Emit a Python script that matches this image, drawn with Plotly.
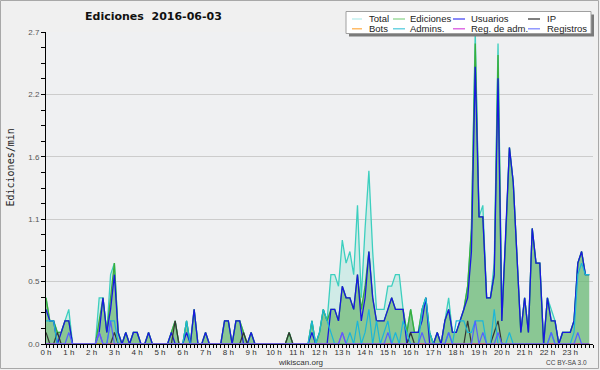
import plotly.graph_objects as go

# ---------------- data: edits per minute, 10-minute bins (6 per hour) ----------------
bins_per_hour = 6

total = [
    0.4, 0.2, 0.2, 0.1, 0.1, 0.2,   # 0 h
    0.3, 0, 0, 0, 0, 0,             # 1 h
    0, 0, 0.4, 0.4, 0.1, 0.6,       # 2 h
    0.7, 0.1, 0, 0.1, 0, 0.1,       # 3 h
    0.1, 0, 0, 0.1, 0, 0,           # 4 h
    0, 0, 0, 0.1, 0.2, 0,           # 5 h
    0, 0.2, 0, 0.3, 0, 0,           # 6 h
    0.1, 0, 0, 0, 0, 0.2,           # 7 h
    0.2, 0, 0.2, 0.2, 0.1, 0,       # 8 h
    0.1, 0, 0, 0, 0, 0,             # 9 h
    0, 0, 0, 0, 0.1, 0,             # 10 h
    0, 0, 0, 0, 0.2, 0,             # 11 h
    0.1, 0.3, 0.2, 0.6, 0.6, 0.5,   # 12 h
    0.9, 0.7, 0.8, 0.6, 1.2, 0.4,   # 13 h
    1.0, 1.5, 0.8, 0.3, 0.3, 0.3,   # 14 h
    0.5, 0.5, 0.6, 0.6, 0.3, 0.1,   # 15 h
    0.3, 0.1, 0.1, 0.3, 0.4, 0.1,   # 16 h
    0, 0.1, 0, 0.2, 0.4, 0.1,       # 17 h
    0.1, 0.2, 0.3, 0.5, 1.0, 2.7,   # 18 h
    1.1, 1.2, 0.4, 0.4, 0.7, 2.6,   # 19 h
    0.3, 0.9, 1.7, 1.4, 0.8, 0.1,   # 20 h
    0.4, 0.1, 1.0, 0.7, 0.7, 0,     # 21 h
    0.4, 0.3, 0.2, 0, 0.1, 0.1,     # 22 h
    0.1, 0.2, 0.7, 0.8, 0.6, 0.6,   # 23 h
]

ediciones = [
    0.4, 0.2, 0.2, 0.1, 0.1, 0.2,
    0.2, 0, 0, 0, 0, 0,
    0, 0, 0.2, 0.4, 0.1, 0.4,
    0.7, 0.1, 0, 0.1, 0, 0.1,
    0.1, 0, 0, 0.1, 0, 0,
    0, 0, 0, 0.1, 0.2, 0,
    0, 0.2, 0, 0.3, 0, 0,
    0.1, 0, 0, 0, 0, 0.2,
    0.2, 0, 0.2, 0.2, 0.1, 0,
    0.1, 0, 0, 0, 0, 0,
    0, 0, 0, 0, 0.1, 0,
    0, 0, 0, 0, 0.2, 0,
    0.1, 0.3, 0.2, 0.3, 0.3, 0.2,
    0.5, 0.4, 0.4, 0.3, 0.6, 0.3,
    0.5, 0.8, 0.4, 0.2, 0.2, 0.2,
    0.3, 0.4, 0.3, 0.3, 0.3, 0.1,
    0.3, 0.1, 0.1, 0.3, 0.4, 0.1,
    0, 0.1, 0, 0.2, 0.3, 0.1,
    0.1, 0.2, 0.3, 0.5, 1.0, 2.6,
    1.1, 1.1, 0.4, 0.4, 0.6, 2.5,
    0.2, 0.9, 1.7, 1.4, 0.8, 0.1,
    0.4, 0.1, 1.0, 0.7, 0.7, 0,
    0.4, 0.2, 0.2, 0, 0.1, 0.1,
    0.1, 0.2, 0.7, 0.8, 0.6, 0.6,
]

usuarios = [
    0.3, 0.2, 0.2, 0, 0.1, 0.2,
    0.2, 0, 0, 0, 0, 0,
    0, 0, 0.1, 0.4, 0.1, 0.3,
    0.6, 0.1, 0, 0.1, 0, 0.1,
    0.1, 0, 0, 0.1, 0, 0,
    0, 0, 0, 0.1, 0, 0,
    0, 0.1, 0, 0.3, 0, 0,
    0.1, 0, 0, 0, 0, 0.2,
    0.2, 0, 0.2, 0.2, 0, 0,
    0.1, 0, 0, 0, 0, 0,
    0, 0, 0, 0, 0, 0,
    0, 0, 0, 0, 0.1, 0,
    0, 0, 0, 0.3, 0.3, 0.2,
    0.5, 0.4, 0.4, 0.3, 0.6, 0.2,
    0.4, 0.8, 0.4, 0.2, 0.2, 0.2,
    0.3, 0.4, 0.3, 0.3, 0.3, 0,
    0.1, 0.1, 0.1, 0.2, 0.4, 0,
    0, 0.1, 0, 0.2, 0.3, 0.1,
    0.1, 0.2, 0.3, 0.4, 0.8, 2.4,
    1.1, 1.1, 0.4, 0.4, 0.6, 2.3,
    0.2, 0.9, 1.7, 1.4, 0.8, 0.1,
    0.4, 0.1, 1.0, 0.7, 0.7, 0,
    0.4, 0.2, 0.2, 0, 0.1, 0.1,
    0.1, 0.2, 0.7, 0.8, 0.6, 0.6,
]

ip = [
    0.1, 0, 0, 0.1, 0, 0,
    0, 0, 0, 0, 0, 0,
    0, 0, 0, 0, 0, 0,
    0.1, 0, 0, 0, 0, 0,
    0, 0, 0, 0, 0, 0,
    0, 0, 0, 0, 0.2, 0,
    0, 0, 0, 0, 0, 0,
    0, 0, 0, 0, 0, 0,
    0, 0, 0, 0, 0.1, 0,
    0, 0, 0, 0, 0, 0,
    0, 0, 0, 0, 0.1, 0,
    0, 0, 0, 0, 0, 0,
    0, 0, 0, 0, 0, 0,
    0, 0, 0, 0, 0, 0,
    0, 0, 0, 0, 0, 0,
    0, 0, 0, 0, 0, 0,
    0.1, 0, 0, 0, 0, 0,
    0, 0, 0, 0, 0, 0,
    0, 0, 0, 0.2, 0, 0,
    0, 0, 0, 0, 0.1, 0.2,
    0, 0, 0, 0, 0, 0,
    0, 0, 0, 0, 0, 0,
    0, 0, 0, 0, 0, 0,
    0, 0, 0, 0, 0, 0,
]

bots = [
    0, 0, 0, 0, 0, 0,  0, 0, 0, 0, 0, 0,  0, 0, 0, 0, 0, 0,  0, 0, 0, 0, 0, 0,
    0, 0, 0, 0, 0, 0,  0, 0, 0, 0, 0, 0,  0, 0, 0, 0, 0, 0,  0, 0, 0, 0, 0, 0,
    0, 0, 0, 0, 0, 0,  0, 0, 0, 0, 0, 0,  0, 0, 0, 0, 0, 0,  0, 0, 0, 0, 0, 0,
    0, 0, 0, 0, 0, 0,  0, 0, 0, 0, 0, 0,  0, 0, 0, 0, 0, 0,  0, 0, 0, 0, 0, 0,
    0, 0, 0, 0, 0, 0,  0, 0, 0, 0, 0, 0,  0, 0, 0, 0, 0, 0,  0, 0, 0, 0, 0, 0,
    0, 0, 0, 0, 0, 0,  0, 0, 0, 0, 0, 0,  0, 0, 0, 0, 0, 0,  0, 0, 0, 0, 0, 0,
]

admins = [
    0.2, 0.2, 0.2, 0, 0, 0,
    0, 0, 0, 0, 0, 0,
    0, 0, 0.1, 0, 0, 0.2,
    0.2, 0, 0, 0, 0, 0,
    0, 0, 0, 0, 0, 0,
    0, 0, 0, 0, 0, 0,
    0, 0.2, 0, 0, 0, 0,
    0, 0, 0, 0, 0, 0,
    0, 0, 0, 0, 0, 0,
    0, 0, 0, 0, 0, 0,
    0, 0, 0, 0, 0, 0,
    0, 0, 0, 0, 0.2, 0,
    0.1, 0.3, 0.2, 0.1, 0, 0,
    0, 0, 0.1, 0, 0.2, 0,
    0.1, 0.3, 0, 0.2, 0, 0.1,
    0.2, 0, 0.1, 0, 0.2, 0.1,
    0, 0, 0, 0.3, 0.4, 0.1,
    0, 0, 0, 0, 0.1, 0,
    0.2, 0.2, 0.2, 0.1, 0.1, 0.2,
    0.2, 0.2, 0, 0, 0.3, 0,
    0, 0, 0.1, 0, 0, 0,
    0, 0, 0, 0, 0, 0,
    0, 0.1, 0, 0, 0, 0,
    0, 0.1, 0.6, 0.7, 0.6, 0.6,
]

reg_adm = [
    0, 0, 0, 0, 0, 0,
    0, 0, 0, 0, 0, 0,
    0, 0, 0.1, 0, 0, 0,
    0, 0, 0, 0, 0, 0,
    0, 0, 0, 0, 0, 0,
    0, 0, 0, 0, 0, 0,
    0, 0, 0, 0, 0, 0,
    0, 0, 0, 0, 0, 0,
    0, 0, 0, 0, 0, 0,
    0, 0, 0, 0, 0, 0,
    0, 0, 0, 0, 0, 0,
    0, 0, 0, 0, 0, 0,
    0, 0, 0, 0, 0, 0,
    0.1, 0, 0, 0, 0, 0,
    0, 0, 0, 0, 0, 0,
    0, 0, 0, 0, 0, 0,
    0, 0, 0, 0, 0, 0,
    0, 0, 0, 0, 0, 0,
    0, 0, 0, 0, 0, 0,
    0, 0, 0, 0, 0, 0,
    0, 0, 0, 0, 0, 0,
    0, 0, 0, 0, 0, 0,
    0, 0, 0, 0, 0, 0,
    0, 0, 0, 0, 0, 0,
]

registros = [
    0, 0, 0, 0, 0, 0,
    0.1, 0, 0, 0, 0, 0,
    0, 0, 0.1, 0, 0, 0.2,
    0, 0, 0, 0, 0, 0,
    0, 0, 0, 0, 0, 0,
    0, 0, 0, 0, 0, 0,
    0, 0, 0, 0, 0, 0,
    0, 0, 0, 0, 0, 0,
    0, 0, 0, 0, 0, 0,
    0, 0, 0, 0, 0, 0,
    0, 0, 0, 0, 0, 0,
    0, 0, 0, 0, 0, 0,
    0, 0, 0, 0, 0, 0,
    0.1, 0, 0, 0, 0, 0,
    0, 0, 0, 0, 0, 0,
    0.1, 0, 0, 0, 0, 0,
    0, 0, 0, 0.1, 0, 0,
    0, 0, 0, 0, 0.1, 0,
    0, 0, 0, 0, 0, 0.2,
    0, 0.1, 0, 0, 0, 0.1,
    0, 0, 0, 0, 0, 0,
    0, 0, 0, 0, 0, 0,
    0, 0.1, 0, 0, 0, 0,
    0, 0, 0.1, 0, 0, 0,
]

hour_ticks = [0, 1, 2, 3, 4, 5, 6, 7, 8, 9, 10, 11, 12, 13, 14, 15, 16, 17, 18, 19, 20, 21, 22, 23]
hour_labels = ["0 h", "1 h", "2 h", "3 h", "4 h", "5 h", "6 h", "7 h", "8 h", "9 h", "10 h", "11 h",
               "12 h", "13 h", "14 h", "15 h", "16 h", "17 h", "18 h", "19 h", "20 h", "21 h", "22 h", "23 h"]
y_tickvals = [0, 0.54, 1.08, 1.62, 2.16, 2.7]
y_ticktext = ["0.0", "0.5", "1.1", "1.6", "2.2", "2.7"]

legend_names = [["Total", "Ediciones", "Usuarios", "IP"],
                ["Bots", "Admins.", "Reg. de adm.", "Registros"]]

# ---------------- figure ----------------
x = [i / bins_per_hour for i in range(len(total))]

W, H = 600, 370
L, R, T, B = 46, 7, 32, 26
PW, PH = W - L - R, H - T - B


def px(v):
    return (v - L) / PW


def py(v):
    return (H - B - v) / PH


fig = go.Figure()
fig.add_trace(go.Scatter(x=x, y=total, name="Total", mode="lines",
                         line=dict(color="#3ccfbf", width=1.3),
                         fill="tozeroy", fillcolor="rgba(165,228,218,0.42)"))
fig.add_trace(go.Scatter(x=x, y=ediciones, name="Ediciones", mode="lines",
                         line=dict(color="#3aae3a", width=1.3),
                         fill="tozeroy", fillcolor="rgba(80,170,80,0.55)"))
fig.add_trace(go.Scatter(x=x, y=usuarios, name="Usuarios", mode="lines",
                         line=dict(color="#1818e0", width=1.3)))
fig.add_trace(go.Scatter(x=x, y=ip, name="IP", mode="lines",
                         line=dict(color="#333333", width=1.2)))
fig.add_trace(go.Scatter(x=x, y=bots, name="Bots", mode="lines",
                         line=dict(color="#ff9922", width=1.2)))
fig.add_trace(go.Scatter(x=x, y=admins, name="Admins.", mode="lines",
                         line=dict(color="#1cb6d8", width=1.2)))
fig.add_trace(go.Scatter(x=x, y=reg_adm, name="Reg. de adm.", mode="lines",
                         line=dict(color="#cc33dd", width=1.2)))
fig.add_trace(go.Scatter(x=x, y=registros, name="Registros", mode="lines",
                         line=dict(color="#5560ff", width=1.2)))

fig.update_traces(showlegend=False, hoverinfo="skip")

tick_font = dict(family="Liberation Sans, Arial, sans-serif", size=8, color="#333")

fig.update_layout(
    width=W, height=H,
    margin=dict(l=L, r=R, t=T, b=B, pad=0),
    paper_bgcolor="#f0f0f0",
    plot_bgcolor="#eff0f2",
    showlegend=False,
    title=dict(text="<b>Ediciones  2016-06-03</b>", x=85 / W, xanchor="left",
               xref="container", y=1 - 16 / H, yanchor="middle", yref="container",
               font=dict(family="DejaVu Sans, sans-serif", size=11, color="#111")),
    xaxis=dict(range=[0, 24], tickmode="array", tickvals=hour_ticks, ticktext=hour_labels,
               ticks="outside", ticklen=3, tickcolor="#000", tickwidth=1,
               showline=True, linecolor="#000", linewidth=1, showgrid=False, zeroline=False,
               tickfont=tick_font, fixedrange=True, ticklabelstandoff=-3,
               minor=dict(tickmode="linear", tick0=0, dtick=1 / bins_per_hour,
                          ticks="outside", ticklen=3, tickcolor="#000", tickwidth=1, showgrid=False)),
    yaxis=dict(range=[0, 2.7], tickmode="array", tickvals=y_tickvals, ticktext=y_ticktext,
               ticks="outside", ticklen=4, tickcolor="#000", tickwidth=1,
               showline=True, linecolor="#000", linewidth=1,
               showgrid=True, gridcolor="#cccccc", gridwidth=1, zeroline=False,
               tickfont=dict(family="Liberation Sans, Arial, sans-serif", size=8, color="#555"),
               fixedrange=True,
               minor=dict(tickmode="linear", tick0=0, dtick=0.135,
                          ticks="outside", ticklen=4, tickcolor="#000", tickwidth=1, showgrid=False)),
)

shapes = []
# outer frame
shapes.append(dict(type="rect", xref="paper", yref="paper",
                   x0=px(0.5), x1=px(598.5), y0=py(368.5), y1=py(0.5),
                   line=dict(color="#a8a8a8", width=1), fillcolor="rgba(0,0,0,0)", layer="above"))
# legend shadow + box
shapes.append(dict(type="rect", xref="paper", yref="paper",
                   x0=px(349), x1=px(594), y0=py(36.5), y1=py(14.5),
                   line=dict(width=0), fillcolor="#7a7a7a", layer="above"))
shapes.append(dict(type="rect", xref="paper", yref="paper",
                   x0=px(346), x1=px(591), y0=py(33.5), y1=py(11.5),
                   line=dict(color="#a0a0a0", width=1), fillcolor="#ffffff", layer="above"))

legend_colors = [["#b8ecec", "#8fd68f", "#4a4af5", "#3a3a3a"],
                 ["#ffb050", "#55ccdd", "#d855e0", "#8088ff"]]
col_line_x = [(352, 362), (393, 405), (453, 465), (528, 540)]
col_text_x = [367, 408, 469, 545]
row_y = [19, 28.8]

annotations = []
for r, names in enumerate(legend_names):
    for c, name in enumerate(names):
        x0, x1 = col_line_x[c]
        shapes.append(dict(type="line", xref="paper", yref="paper",
                           x0=px(x0), x1=px(x1), y0=py(row_y[r]), y1=py(row_y[r]),
                           line=dict(color=legend_colors[r][c], width=1.3), layer="above"))
        annotations.append(dict(text=name, xref="paper", yref="paper",
                                x=px(col_text_x[c]), y=py(row_y[r]),
                                xanchor="left", yanchor="middle", showarrow=False,
                                font=dict(family="Liberation Sans, Arial, sans-serif",
                                          size=9.5, color="#222")))

annotations.append(dict(text="Ediciones/min", xref="paper", yref="paper",
                        x=px(9.5), y=py(168), textangle=-90,
                        xanchor="center", yanchor="middle", showarrow=False,
                        font=dict(family="DejaVu Sans Mono, monospace", size=10, color="#222")))
annotations.append(dict(text="wikiscan.org", xref="paper", yref="paper",
                        x=px(300), y=py(362.5), xanchor="center", yanchor="middle", showarrow=False,
                        font=dict(family="Liberation Sans, Arial, sans-serif", size=8, color="#333")))
annotations.append(dict(text="CC BY-SA 3.0", xref="paper", yref="paper",
                        x=px(589), y=py(362.5), xanchor="right", yanchor="middle", showarrow=False,
                        font=dict(family="Liberation Sans, Arial, sans-serif", size=6.5, color="#444")))

fig.update_layout(shapes=shapes, annotations=annotations)

fig.write_html("out.html", config={"displayModeBar": False, "staticPlot": True},
               post_script="document.body.style.margin='0';document.body.style.overflow='hidden';")
